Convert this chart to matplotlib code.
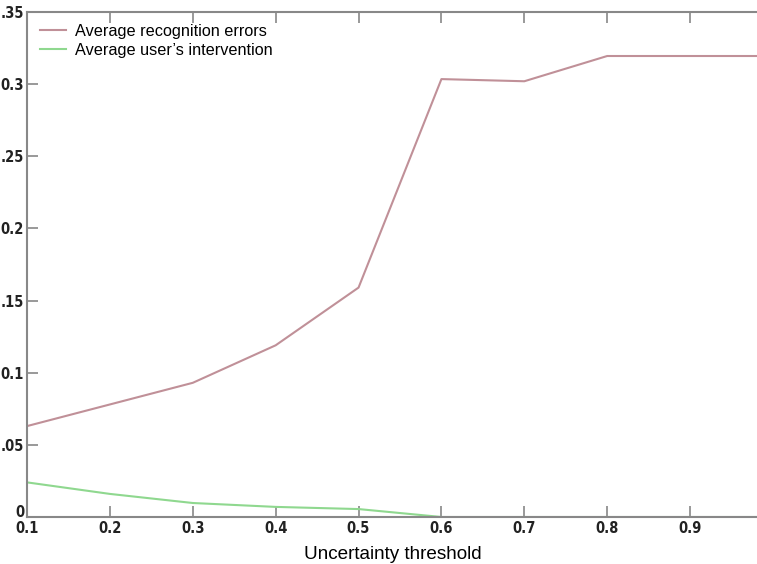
import matplotlib
matplotlib.use("Agg")
import matplotlib.pyplot as plt
from matplotlib import font_manager

thresholds = [0.1, 0.2, 0.3, 0.4, 0.5, 0.6, 0.7, 0.8, 0.9, 1.0]
recognition_errors = [0.063, 0.078, 0.093, 0.119, 0.159, 0.3035, 0.302, 0.3195, 0.3195, 0.3195]
user_intervention = [0.024, 0.016, 0.0097, 0.007, 0.0055, 0.0, 0.0, 0.0, 0.0, 0.0]
xtick_vals = [0.1, 0.2, 0.3, 0.4, 0.5, 0.6, 0.7, 0.8, 0.9]
xtick_labels = ["0.1", "0.2", "0.3", "0.4", "0.5", "0.6", "0.7", "0.8", "0.9"]
ytick_vals = [0, 0.05, 0.1, 0.15, 0.2, 0.25, 0.3, 0.35]
ytick_labels = ["0", ".05", "0.1", ".15", "0.2", ".25", "0.3", ".35"]

# look for a condensed font file
cond = [f for f in font_manager.fontManager.ttflist
        if ("ondensed" in f.fname or "Narrow" in f.fname or "ondensed" in f.name or "Narrow" in f.name)]
cond_bold = [f for f in cond if f.weight in ("bold", 700) or "Bold" in f.fname]
cond_bold = [f for f in cond_bold if "Oblique" not in f.fname and "Italic" not in f.fname] or cond_bold
pick = (cond_bold or cond)
tick_fp = font_manager.FontProperties(fname=pick[0].fname, size=10.5) if pick else \
    font_manager.FontProperties(family="DejaVu Sans", weight="bold", size=9)

fig = plt.figure(figsize=(7.57, 5.64), dpi=100)
ax = fig.add_axes([27/757, 1-517/564, 1-27/757+0.02, (517-12)/564])

ax.plot(thresholds, recognition_errors, color="#c09098", lw=1.5, label="Average recognition errors")
ax.plot(thresholds, user_intervention, color="#8fd88f", lw=1.5, label="Average user\u2019s intervention")

ax.set_xlim(0.1, 0.999)
ax.set_ylim(0, 0.35)
ax.set_xticks(xtick_vals)
ax.set_xticklabels(xtick_labels)
ax.set_yticks(ytick_vals)
ax.set_yticklabels(ytick_labels)
ax.tick_params(direction="in", length=8, width=1.2, color="#888888", top=True, right=True, pad=2)
ax.tick_params(axis="x", pad=3)
for lab in ax.get_xticklabels() + ax.get_yticklabels():
    lab.set_fontproperties(tick_fp)
    lab.set_color("#222222")
ax.get_yticklabels()[0].set_verticalalignment("baseline")
for s in ax.spines.values():
    s.set_color("#888888")
    s.set_linewidth(1.5)

ax.set_xlabel("Uncertainty threshold", fontsize=13.6, family="Liberation Sans")
ax.xaxis.set_label_coords((393-27)/745, -0.057)

leg = ax.legend(loc="upper left", frameon=False, handlelength=1.6, handletextpad=0.55,
                prop={"family": "Liberation Sans", "size": 11.7},
                borderaxespad=0.0, labelspacing=0.25, bbox_to_anchor=(0.0087, 0.989))

fig.savefig("out.png", dpi=100)
